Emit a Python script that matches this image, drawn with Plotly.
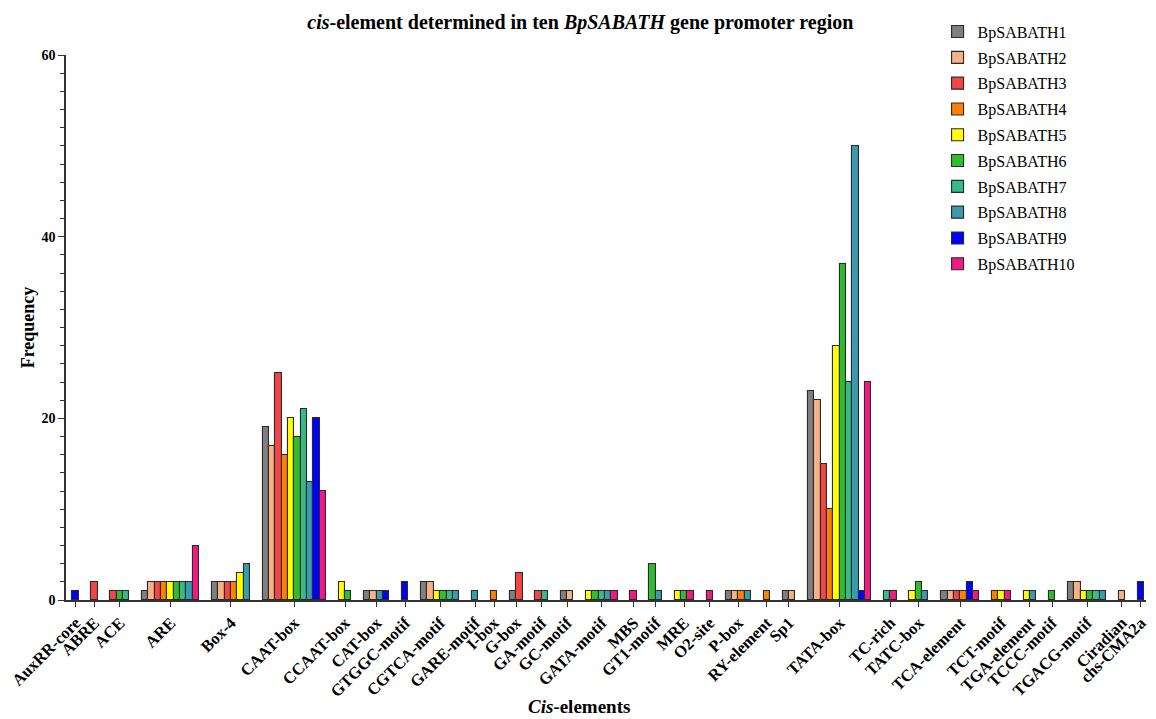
import plotly.graph_objects as go

categories = ["AuxRR-core", "ABRE", "ACE", "ARE", "Box-4", "CAAT-box", "CCAAT-box",
              "CAT-box", "GTGGC-motif", "CGTCA-motif", "GARE-motif", "I-box", "G-box",
              "GA-motif", "GC-motif", "GATA-motif", "MBS", "GT1-motif", "MRE", "O2-site",
              "P-box", "RY-element", "Sp1", "TATA-box", "TC-rich", "TATC-box",
              "TCA-element", "TCT-motif", "TGA-element", "TCCC-motif", "TGACG-motif",
              "Ciradian", "chs-CMA2a"]

series_names = ["BpSABATH1", "BpSABATH2", "BpSABATH3", "BpSABATH4", "BpSABATH5",
                "BpSABATH6", "BpSABATH7", "BpSABATH8", "BpSABATH9", "BpSABATH10"]

s1 = [0, 0, 0, 1, 2, 19, 0, 1, 0, 2, 0, 0, 1, 0, 1, 0, 0, 0, 0, 0, 1, 0, 1, 23, 0, 0, 1, 0, 0, 0, 2, 0, 0]
s2 = [0, 0, 0, 2, 2, 17, 0, 1, 0, 2, 0, 0, 0, 0, 1, 0, 0, 0, 0, 0, 1, 0, 1, 22, 0, 0, 1, 0, 0, 0, 2, 1, 0]
s3 = [0, 2, 1, 2, 2, 25, 0, 0, 0, 0, 0, 0, 3, 1, 0, 0, 0, 0, 0, 0, 0, 0, 0, 15, 0, 0, 1, 0, 0, 0, 0, 0, 0]
s4 = [0, 0, 0, 2, 2, 16, 0, 0, 0, 0, 0, 1, 0, 0, 0, 0, 0, 0, 0, 0, 1, 1, 0, 10, 0, 0, 1, 1, 0, 0, 0, 0, 0]
s5 = [0, 0, 0, 2, 3, 20, 2, 0, 0, 1, 0, 0, 0, 0, 0, 1, 0, 0, 1, 0, 0, 0, 0, 28, 0, 1, 0, 1, 1, 0, 1, 0, 0]
s6 = [0, 0, 1, 2, 0, 18, 1, 0, 0, 1, 0, 0, 0, 0, 0, 1, 0, 4, 1, 0, 0, 0, 0, 37, 0, 2, 0, 0, 0, 1, 1, 0, 0]
s7 = [0, 0, 1, 2, 0, 21, 0, 0, 0, 1, 0, 0, 0, 1, 0, 1, 0, 0, 0, 0, 0, 0, 0, 24, 1, 0, 0, 0, 0, 0, 1, 0, 0]
s8 = [0, 0, 0, 2, 4, 13, 0, 1, 0, 1, 1, 0, 0, 0, 0, 1, 0, 1, 0, 0, 1, 0, 0, 50, 0, 1, 0, 0, 1, 0, 1, 0, 0]
s9 = [1, 0, 0, 0, 0, 20, 0, 1, 2, 0, 0, 0, 0, 0, 0, 0, 0, 0, 0, 0, 0, 0, 0, 1, 0, 0, 2, 0, 0, 0, 0, 0, 2]
s10 = [0, 0, 0, 6, 0, 12, 0, 0, 0, 0, 0, 0, 0, 0, 0, 1, 1, 0, 1, 1, 0, 0, 0, 24, 1, 0, 1, 1, 0, 0, 0, 0, 0]

series_values = [s1, s2, s3, s4, s5, s6, s7, s8, s9, s10]

colors = ["#7f7f7f", "#f4b183", "#f24646", "#ff7f00", "#ffff00",
          "#2fbd2f", "#35bb88", "#3a9aae", "#0000ff", "#f01a80"]

y_ticks = [0, 20, 40, 60]

# Packed grouped layout: only non-zero bars occupy a slot, groups separated by a gap
GAP = 2
slot_x = [[None] * len(categories) for _ in series_values]
tick_centers = []
cursor = 0.0
for ci in range(len(categories)):
    start = cursor
    for si, vals in enumerate(series_values):
        if vals[ci] > 0:
            slot_x[si][ci] = cursor + 0.5
            cursor += 1
    tick_centers.append((start + cursor) / 2)
    cursor += GAP
total_units = cursor - GAP

fig = go.Figure()
for si, vals in enumerate(series_values):
    xs = [slot_x[si][ci] for ci in range(len(categories)) if vals[ci] > 0]
    ys = [vals[ci] for ci in range(len(categories)) if vals[ci] > 0]
    fig.add_trace(go.Bar(
        x=xs, y=ys, width=1, name=series_names[si],
        legendgroup=series_names[si],
        marker=dict(color=colors[si], line=dict(color="#2a2a2a", width=1.1)),
    ))

serif = "Liberation Serif, Times New Roman, serif"

fig.update_layout(
    width=1156, height=719, autosize=False,
    margin=dict(l=66, r=6, t=55, b=119),
    plot_bgcolor="white", paper_bgcolor="white",
    bargap=0,
    showlegend=True,
    title=dict(
        text="<b><i>cis</i>-element determined in ten <i>BpSABATH</i> gene promoter region</b>",
        x=0.502, xanchor="center", xref="container", y=0.969, yanchor="middle",
        font=dict(family=serif, size=20, color="black"),
    ),
    legend=dict(
        x=0.807, xanchor="left", y=1.074, yanchor="top",
        font=dict(family=serif, size=16, color="black"),
        tracegroupgap=2, bgcolor="rgba(0,0,0,0)",
    ),
    xaxis=dict(
        range=[-1, total_units + 0.3],
        tickmode="array", tickvals=tick_centers, ticktext=categories,
        tickangle=-45,
        tickfont=dict(family=serif, size=16.5, color="black", weight="bold"),
        ticks="outside", ticklen=5, tickwidth=1.2, tickcolor="#333",
        showline=True, linecolor="#333", linewidth=1.5,
        showgrid=False, zeroline=False,
    ),
    yaxis=dict(
        range=[0, 60],
        tickmode="array", tickvals=y_ticks,
        tickfont=dict(family=serif, size=14, color="black", weight="bold"),
        ticks="outside", ticklen=6, tickwidth=1.2, tickcolor="#333",
        minor=dict(dtick=2, ticks="outside", ticklen=4, tickwidth=1, tickcolor="#333"),
        showline=True, linecolor="#333", linewidth=1.5,
        showgrid=False, zeroline=False,
        title=dict(text="<b>Frequency</b>",
                   font=dict(family=serif, size=18, color="black"), standoff=2),
    ),
    annotations=[dict(
        text="<b><i>Cis</i>-elements</b>", xref="paper", yref="paper",
        x=0.475, y=-0.196, xanchor="center", yanchor="middle", showarrow=False,
        font=dict(family=serif, size=19, color="black"),
    )],
)

fig.write_html("out.html", config={"displayModeBar": False},
               post_script="document.body.style.margin='0';")
